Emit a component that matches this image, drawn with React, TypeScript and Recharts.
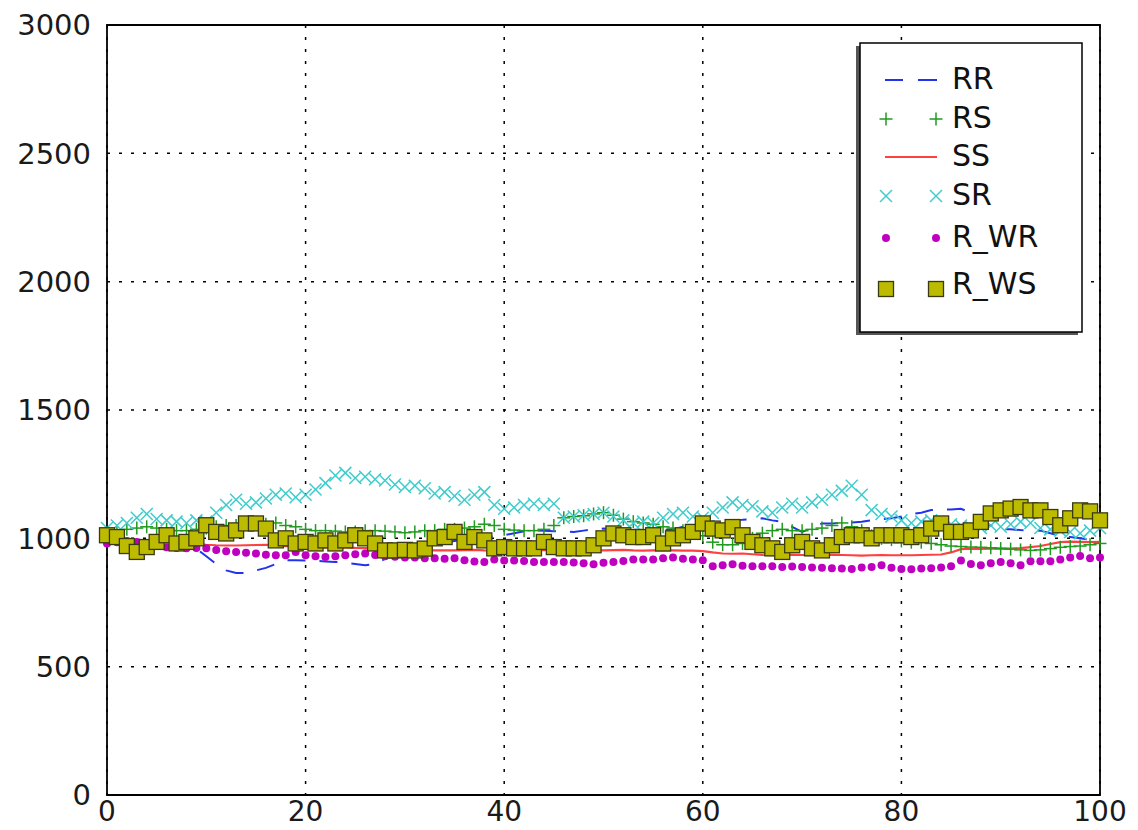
import React from "react";
import { ComposedChart, Line, XAxis, YAxis, CartesianGrid, ReferenceArea } from "recharts";

// one value per x step, x = 0..100
const RR = [
  1000, 1000, 998, 995, 992, 990, 990, 988, 985, 960, 930, 900, 875, 865, 865, 875, 885, 900, 914, 915,
  914, 912, 910, 908, 905, 900, 895, 900, 920, 940, 960, 970, 975, 980, 985, 990, 995, 1000, 1005, 1008,
  1012, 1020, 1028, 1031, 1030, 1028, 1026, 1025, 1030, 1035, 1038, 1036, 1034, 1033, 1032, 1031, 1031, 1035, 1045, 1058,
  1064, 1066, 1068, 1070, 1072, 1075, 1078, 1070, 1064, 1045, 1025, 1040, 1058, 1058, 1060, 1062, 1065, 1070, 1075, 1078,
  1085, 1095, 1100, 1110, 1112, 1112, 1115, 1100, 1070, 1050, 1035, 1035, 1032, 1031, 1030, 1020, 1010, 1005, 1000, 995,
  992,
];
const RS = [
  1020, 1025, 1035, 1040, 1045, 1040, 1035, 1030, 1030, 1035, 1040, 1045, 1050, 1050, 1055, 1060, 1055, 1060, 1050, 1045,
  1035, 1030, 1030, 1028, 1025, 1025, 1030, 1030, 1028, 1025, 1022, 1025, 1030, 1030, 1035, 1035, 1040, 1045, 1055, 1050,
  1035, 1032, 1030, 1030, 1035, 1050, 1080, 1085, 1088, 1095, 1100, 1090, 1075, 1065, 1060, 1055, 1045, 1040, 1030, 1020,
  1010, 985, 975, 975, 980, 1000, 1020, 1030, 1035, 1030, 1030, 1035, 1040, 1050, 1060, 1045, 1030, 1010, 1000, 995,
  990, 985, 985, 980, 975, 970, 968, 966, 965, 963, 960, 958, 955, 953, 955, 960, 965, 968, 970, 975,
  980,
];
const SS = [
  1000, 998, 995, 992, 990, 988, 985, 983, 980, 978, 975, 973, 972, 972, 973, 974, 975, 972, 970, 968,
  967, 966, 965, 966, 965, 963, 962, 960, 958, 957, 956, 955, 954, 953, 953, 953, 954, 955, 953, 952,
  955, 957, 956, 955, 954, 955, 956, 955, 954, 953, 953, 954, 955, 953, 952, 953, 954, 953, 952, 952,
  950, 945, 941, 940, 941, 938, 935, 934, 935, 936, 935, 934, 934, 936, 935, 934, 933, 934, 935, 934,
  934, 934, 935, 936, 937, 945, 958, 960, 959, 960, 961, 960, 962, 966, 970, 978, 985, 987, 986, 985,
  986,
];
const SR = [
  1040, 1050, 1060, 1080, 1095, 1075, 1070, 1065, 1060, 1070, 1065, 1100, 1130, 1150, 1135, 1140, 1155, 1170, 1175, 1160,
  1170, 1190, 1215, 1245, 1255, 1235, 1240, 1230, 1225, 1210, 1200, 1205, 1195, 1175, 1180, 1165, 1150, 1170, 1180, 1130,
  1115, 1120, 1130, 1135, 1130, 1135, 1080, 1085, 1090, 1095, 1100, 1085, 1070, 1060, 1065, 1060, 1080, 1095, 1100, 1085,
  1080, 1100, 1120, 1140, 1130, 1125, 1105, 1100, 1120, 1135, 1120, 1140, 1150, 1170, 1185, 1205, 1170, 1110, 1095, 1085,
  1070, 1060, 1065, 1070, 1060, 1055, 1050, 1045, 1040, 1050, 1045, 1055, 1065, 1060, 1040, 1035, 1030, 1025, 1020, 1030,
  1040,
];
const R_WR = [
  980, 985, 990, 986, 975, 970, 965, 962, 961, 962, 961, 955, 950, 947, 944, 941, 936, 934, 934, 947,
  934, 930, 927, 930, 934, 938, 941, 935, 930, 928, 925, 925, 922, 922, 920, 922, 915, 910, 908, 918,
  914, 914, 912, 908, 908, 908, 908, 906, 903, 899, 905, 908, 912, 918, 918, 918, 922, 925, 920, 918,
  915, 891, 895, 899, 893, 891, 891, 891, 888, 890, 888, 886, 885, 883, 882, 881, 886, 888, 895, 885,
  881, 880, 882, 883, 886, 891, 914, 900, 895, 903, 908, 903, 895, 911, 911, 911, 918, 925, 931, 922,
  925,
];
const R_WS = [
  1012, 1005, 970, 947, 966, 986, 1012, 980, 986, 1000, 1051, 1025, 1019, 1031, 1058, 1058, 1038, 992, 1000, 980,
  986, 980, 992, 980, 992, 1012, 1000, 980, 953, 953, 955, 953, 960, 1000, 1005, 1025, 986, 1005, 992, 961,
  966, 961, 961, 961, 986, 966, 961, 961, 961, 973, 1000, 1019, 1012, 1005, 1005, 1012, 980, 1000, 1012, 1025,
  1058, 1038, 1031, 1044, 1012, 986, 973, 961, 947, 973, 986, 961, 953, 973, 1005, 1012, 1012, 1000, 1012, 1012,
  1012, 1005, 1012, 1038, 1058, 1025, 1025, 1031, 1064, 1097, 1109, 1116, 1122, 1109, 1109, 1083, 1051, 1078, 1109, 1105,
  1070,
];

const X_TICKS = [0, 20, 40, 60, 80, 100];
const Y_TICKS = [0, 500, 1000, 1500, 2000, 2500, 3000];

const data = RR.map((v, i) => ({
  x: i,
  RR: v,
  RS: RS[i],
  SS: SS[i],
  SR: SR[i],
  R_WR: R_WR[i],
  R_WS: R_WS[i],
}));

const FONT = "'DejaVu Sans', sans-serif";
const C_BLUE = "#2233ee";
const C_GREEN = "#1f9a1f";
const C_RED = "#ff4040";
const C_CYAN = "#3fcccc";
const C_MAG = "#c000c0";
const C_OLIVE = "#bdbb00";

const Plus = ({ cx, cy }: any) => (
  <g stroke={C_GREEN} strokeWidth={1.5}>
    <line x1={cx - 6.5} y1={cy} x2={cx + 6.5} y2={cy} />
    <line x1={cx} y1={cy - 6.5} x2={cx} y2={cy + 6.5} />
  </g>
);
const Cross = ({ cx, cy }: any) => (
  <g stroke={C_CYAN} strokeWidth={1.5}>
    <line x1={cx - 6} y1={cy - 6} x2={cx + 6} y2={cy + 6} />
    <line x1={cx - 6} y1={cy + 6} x2={cx + 6} y2={cy - 6} />
  </g>
);
const Dot = ({ cx, cy }: any) => <circle cx={cx} cy={cy} r={4} fill={C_MAG} />;
const Square = ({ cx, cy }: any) => (
  <rect x={cx - 7.5} y={cy - 7.5} width={15} height={15} fill={C_OLIVE} stroke="#3a3a10" strokeWidth={1.3} />
);

function LegendBox() {
  const rows = [
    { name: "RR", y: 80, kind: "dash" },
    { name: "RS", y: 119, kind: "plus" },
    { name: "SS", y: 157, kind: "line" },
    { name: "SR", y: 196, kind: "cross" },
    { name: "R_WR", y: 238, kind: "dot" },
    { name: "R_WS", y: 289, kind: "square" },
  ];
  const m1 = 886;
  const m2 = 936;
  return (
    <svg width={1138} height={830} style={{ position: "absolute", left: 0, top: 0, pointerEvents: "none" }}>
      <rect x={856} y={46} width={222} height={289} fill="#555" />
      <rect x={860} y={43} width={222} height={289} fill="#fff" stroke="#000" strokeWidth={1.5} />
      {rows.map((r) => (
        <g key={r.name}>
          {r.kind === "dash" && (
            <g stroke={C_BLUE} strokeWidth={2}>
              <line x1={885} y1={r.y} x2={903} y2={r.y} />
              <line x1={918} y1={r.y} x2={937} y2={r.y} />
            </g>
          )}
          {r.kind === "line" && <line x1={885} y1={r.y} x2={937} y2={r.y} stroke={C_RED} strokeWidth={2.2} />}
          {r.kind === "plus" && (
            <>
              <Plus cx={m1} cy={r.y} />
              <Plus cx={m2} cy={r.y} />
            </>
          )}
          {r.kind === "cross" && (
            <>
              <Cross cx={m1} cy={r.y} />
              <Cross cx={m2} cy={r.y} />
            </>
          )}
          {r.kind === "dot" && (
            <>
              <Dot cx={m1} cy={r.y} />
              <Dot cx={m2} cy={r.y} />
            </>
          )}
          {r.kind === "square" && (
            <>
              <Square cx={m1} cy={r.y} />
              <Square cx={m2} cy={r.y} />
            </>
          )}
          <text
            x={952}
            y={r.kind === "square" ? r.y - 6 : r.y - 2}
            dominantBaseline="central"
            fontFamily={FONT}
            fontSize={30}
            fill="#111"
          >
            {r.name}
          </text>
        </g>
      ))}
    </svg>
  );
}

export default function App() {
  const tick = { fontSize: 29, fill: "#1a1a1a", fontFamily: FONT };
  return (
    <div style={{ position: "absolute", left: 0, top: 0, width: 1138, height: 830, background: "#fff" }}>
      <ComposedChart width={1138} height={830} data={data} margin={{ top: 25, right: 38, bottom: 0, left: 0 }}>
        <CartesianGrid stroke="#000" strokeDasharray="3 9" strokeWidth={1.5} horizontalValues={Y_TICKS} verticalValues={X_TICKS} />
        <XAxis
          dataKey="x"
          type="number"
          domain={[0, 100]}
          ticks={X_TICKS}
          interval={0}
          height={35}
          tick={{ ...tick, fontSize: 28 }}
          tickLine={false}
          axisLine={false}
          tickSize={6}
          tickMargin={0}
        />
        <YAxis
          type="number"
          domain={[0, 3000]}
          ticks={Y_TICKS}
          interval={0}
          width={107}
          tick={tick}
          tickLine={false}
          axisLine={false}
          tickSize={6}
          tickMargin={10}
        />
        <ReferenceArea x1={0} x2={100} y1={0} y2={3000} fill="none" stroke="#000" strokeWidth={1.8} />
        <Line
          dataKey="RR"
          type="linear"
          stroke={C_BLUE}
          strokeWidth={2}
          strokeDasharray="18 14"
          dot={false}
          activeDot={false}
          isAnimationActive={false}
        />
        <Line
          dataKey="RS"
          stroke="none"
          dot={(p: any) => <Plus key={`rs-${p.index}`} cx={p.cx} cy={p.cy} />}
          activeDot={false}
          isAnimationActive={false}
        />
        <Line
          dataKey="SS"
          type="linear"
          stroke={C_RED}
          strokeWidth={2.2}
          dot={false}
          activeDot={false}
          isAnimationActive={false}
        />
        <Line
          dataKey="SR"
          stroke="none"
          dot={(p: any) => <Cross key={`sr-${p.index}`} cx={p.cx} cy={p.cy} />}
          activeDot={false}
          isAnimationActive={false}
        />
        <Line
          dataKey="R_WR"
          stroke="none"
          dot={(p: any) => <Dot key={`wr-${p.index}`} cx={p.cx} cy={p.cy} />}
          activeDot={false}
          isAnimationActive={false}
        />
        <Line
          dataKey="R_WS"
          stroke="none"
          dot={(p: any) => <Square key={`ws-${p.index}`} cx={p.cx} cy={p.cy} />}
          activeDot={false}
          isAnimationActive={false}
        />
      </ComposedChart>
      <LegendBox />
    </div>
  );
}
